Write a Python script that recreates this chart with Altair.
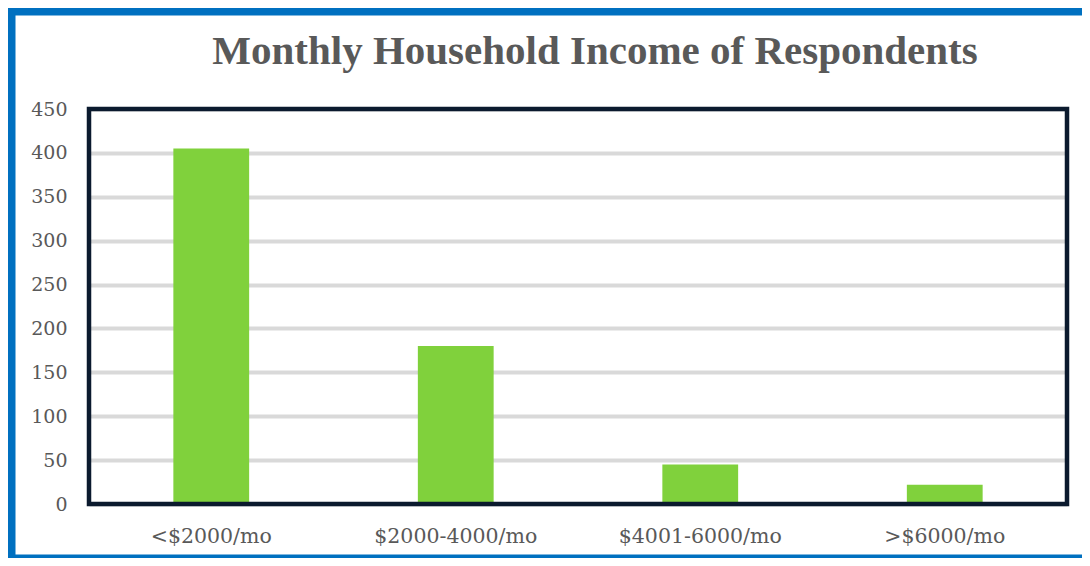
import altair as alt
import pandas as pd

title_text = "Monthly Household Income of Respondents"
categories = ["<$2000/mo", "$2000-4000/mo", "$4001-6000/mo", ">$6000/mo"]
counts = [405, 180, 45, 22]
y_ticks = [0, 50, 100, 150, 200, 250, 300, 350, 400, 450]

df = pd.DataFrame({"Income": categories, "Respondents": counts})

FONT = "DejaVu Serif"
TITLE_FONT = "Liberation Serif"
W, H = 978, 395

bars = alt.Chart(df).mark_bar(color="#80d13c").encode(
    x=alt.X(
        "Income:N",
        sort=categories,
        scale=alt.Scale(paddingInner=0.69, paddingOuter=0.345),
        axis=alt.Axis(
            title=None, labelAngle=0, ticks=False, domain=False,
            labelFont=FONT, labelFontSize=20.5, labelColor="#595959",
            labelPadding=22, grid=False,
        ),
    ),
    y=alt.Y(
        "Respondents:Q",
        scale=alt.Scale(domain=[0, 450], nice=False),
        axis=alt.Axis(
            title=None, values=y_ticks, ticks=False, domain=False,
            labelFont=FONT, labelFontSize=19, labelColor="#595959",
            labelPadding=22, grid=True, gridColor="#d9d9d9", gridWidth=4,
        ),
    ),
)

deco = pd.DataFrame({"t": [title_text]})

plot_frame = alt.Chart(deco).mark_rect(
    fill=None, stroke="#0b1a2e", strokeWidth=4.5
).encode(
    x=alt.value(0), x2=alt.value(W),
    y=alt.value(0), y2=alt.value(H),
)

outer_frame = alt.Chart(deco).mark_rect(
    fill=None, stroke="#0070c0", strokeWidth=11
).encode(
    x=alt.value(-79), x2=alt.value(1020),
    y=alt.value(-99), y2=alt.value(451),
)

title = alt.Chart(deco).mark_text(
    font=TITLE_FONT, fontSize=41, fontWeight="bold", color="#595959",
    align="center", baseline="alphabetic",
).encode(
    text="t:N", x=alt.value(506), y=alt.value(-45),
)

chart = alt.layer(bars, plot_frame, outer_frame, title).properties(
    width=W, height=H,
    padding={"left": 81, "top": 101, "right": 15, "bottom": 54},
    autosize=alt.AutoSizeParams(type="none"),
).configure_view(
    strokeWidth=0
).configure(background="white")

chart.save("out.html", embed_options={"renderer": "svg", "actions": False})
